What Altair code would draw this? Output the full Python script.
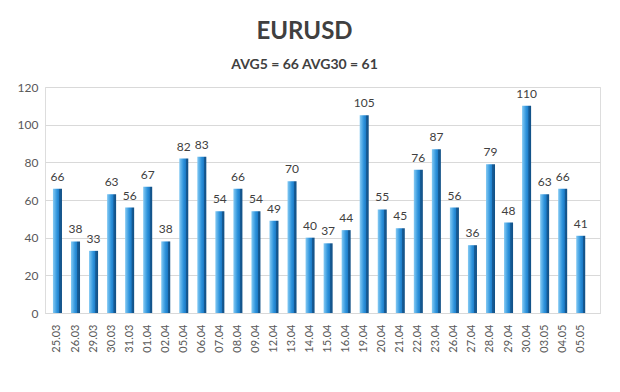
import altair as alt
import pandas as pd

dates = ["25.03", "26.03", "29.03", "30.03", "31.03", "01.04", "02.04", "05.04",
         "06.04", "07.04", "08.04", "09.04", "12.04", "13.04", "14.04", "15.04",
         "16.04", "19.04", "20.04", "21.04", "22.04", "23.04", "26.04", "27.04",
         "28.04", "29.04", "30.04", "03.05", "04.05", "05.05"]
values = [66, 38, 33, 63, 56, 67, 38, 82, 83, 54, 66, 54, 49, 70, 40, 37,
          44, 105, 55, 45, 76, 87, 56, 36, 79, 48, 110, 63, 66, 41]
y_ticks = [0, 20, 40, 60, 80, 100, 120]

df = pd.DataFrame({"date": dates, "value": values})

FONT = "Lato"

x_enc = alt.X("date:N", sort=dates, title=None,
              scale=alt.Scale(paddingInner=0.5, paddingOuter=0.63, align=0.35),
              axis=alt.Axis(labelAngle=270, labelPadding=11, ticks=False,
                            domainColor="#d9d9d9", labelColor="#595959",
                            labelFontSize=11, labelFont=FONT))
y_enc = alt.Y("value:Q", title=None,
              scale=alt.Scale(domain=[0, 120], nice=False),
              axis=alt.Axis(values=y_ticks, ticks=False, domain=False,
                            labelOverlap=False, tickCount=7,
                            gridColor="#d9d9d9", labelColor="#595959",
                            labelFontSize=12, labelPadding=7, labelFont=FONT))

base = alt.Chart(df).encode(x=x_enc, y=y_enc)

bars = base.mark_bar(
    color=alt.Gradient(
        gradient="linear", x1=0, x2=1, y1=0, y2=0,
        stops=[alt.GradientStop(color="#86cbf4", offset=0),
               alt.GradientStop(color="#2f94dc", offset=0.45),
               alt.GradientStop(color="#1d7cc8", offset=0.7),
               alt.GradientStop(color="#165d98", offset=0.72),
               alt.GradientStop(color="#125085", offset=1)]),
)

labels = base.mark_text(
    baseline="bottom", dy=-5, fontSize=12, font=FONT, color="#404040"
).encode(text="value:Q")

chart = alt.layer(bars, labels).properties(
    width=555, height=226,
    autosize=alt.AutoSizeParams(type="none"),
    padding={"left": 37, "top": 79, "right": 12, "bottom": 71},
    title=alt.TitleParams(
        text="EURUSD", subtitle="AVG5 = 66 AVG30 = 61",
        anchor="middle", dx=-18, offset=9,
        font=FONT, fontSize=24, fontWeight="bold", color="#404040",
        subtitleFont=FONT, subtitleFontSize=14, subtitleFontWeight="bold",
        subtitleColor="#404040", subtitlePadding=14),
).configure_view(stroke=None).configure(background="white")

chart.save("out.html", embed_options={"renderer": "svg", "actions": False})
